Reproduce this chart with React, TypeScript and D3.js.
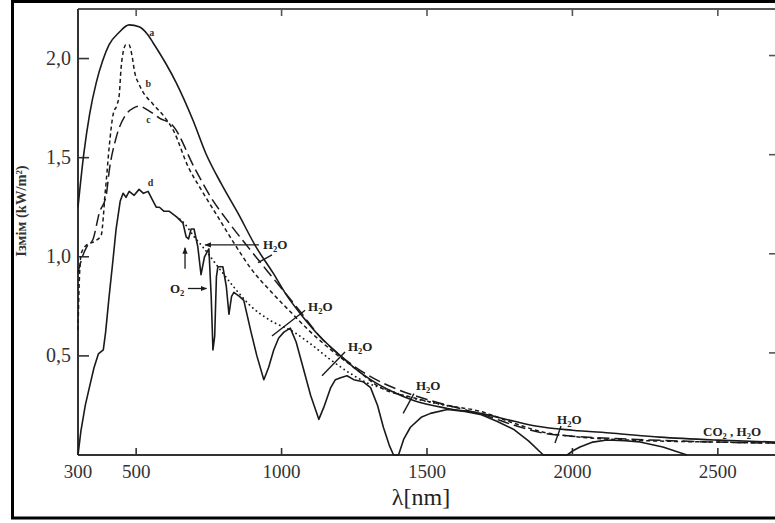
import React from 'react';
import * as d3 from 'd3';

const WIDTH = 775;
const HEIGHT = 523;

const X_TICKS = [300, 500, 1000, 1500, 2000, 2500];
const X_TICK_LABELS = ['300', '500', '1000', '1500', '2000', '2500'];
const TOP_TICKS = [500, 1000, 1500, 2000, 2500];
const Y_TICKS = [0.5, 1.0, 1.5, 2.0];
const Y_TICK_LABELS = ['0,5', '1,0', '1,5', '2,0'];

// curve a: extraterrestrial (solid)
const curveA: [number, number][] = [
  [300, 1.25], [320, 1.52], [340, 1.72], [363, 1.88], [385, 1.99], [407, 2.07], [440, 2.13],
  [476, 2.17], [510, 2.16], [540, 2.12], [558, 2.08], [600, 1.98], [637, 1.88], [695, 1.69],
  [740, 1.52], [792, 1.37], [850, 1.22], [912, 1.05], [970, 0.92], [1020, 0.8], [1066, 0.71],
  [1130, 0.6], [1203, 0.5], [1250, 0.44], [1306, 0.38], [1380, 0.32], [1454, 0.275],
  [1570, 0.235], [1683, 0.21], [1800, 0.17], [1879, 0.145], [2000, 0.125], [2140, 0.11],
  [2300, 0.09], [2500, 0.075], [2700, 0.065],
];

// curve b (short dashes)
const curveB: [number, number][] = [
  [300, 0.63], [305, 0.9], [312, 1.02], [330, 1.06], [360, 1.08], [380, 1.11], [387, 1.2],
  [392, 1.3], [397, 1.38], [407, 1.55], [421, 1.72], [435, 1.77], [442, 1.82], [448, 1.95],
  [455, 2.03], [465, 2.07], [475, 2.07], [485, 2.02], [495, 1.93], [510, 1.87], [524, 1.83],
  [558, 1.77], [600, 1.7], [627, 1.64], [680, 1.45], [723, 1.34], [790, 1.18], [836, 1.07],
  [900, 0.93], [960, 0.83], [1032, 0.72], [1100, 0.62], [1170, 0.53], [1250, 0.44],
  [1340, 0.34], [1450, 0.29], [1570, 0.25], [1683, 0.22], [1800, 0.16], [1900, 0.115],
  [2026, 0.09], [2200, 0.075], [2500, 0.065], [2700, 0.06],
];

// curve c (long dashes)
const curveC: [number, number][] = [
  [300, 0.92], [315, 1.0], [330, 1.05], [352, 1.09], [373, 1.22], [397, 1.31], [407, 1.43],
  [431, 1.6], [466, 1.72], [490, 1.75], [510, 1.76], [540, 1.74], [580, 1.7], [627, 1.66],
  [700, 1.45], [757, 1.3], [820, 1.17], [884, 1.05], [950, 0.93], [1000, 0.84], [1066, 0.72],
  [1130, 0.6], [1203, 0.5], [1300, 0.4], [1400, 0.33], [1500, 0.28], [1600, 0.24],
  [1700, 0.2], [1800, 0.15], [1900, 0.11], [2000, 0.095], [2200, 0.08], [2500, 0.065],
  [2700, 0.06],
];

// curve d (solid, with absorption bands)
const curveD: [number, number][] = [
  [300, 0], [310, 0.12], [325, 0.25], [339, 0.34], [355, 0.44], [370, 0.51], [387, 0.53],
  [395, 0.62], [407, 0.8], [420, 0.98], [431, 1.14], [445, 1.28], [455, 1.32], [465, 1.3],
  [476, 1.33], [493, 1.31], [510, 1.34], [525, 1.32], [541, 1.33], [555, 1.29], [569, 1.25],
  [580, 1.25], [595, 1.23], [613, 1.23], [640, 1.2], [661, 1.17], [672, 1.1], [680, 1.09],
  [689, 1.14], [699, 1.14], [712, 1.05], [723, 0.91], [735, 1.0], [750, 1.04], [758, 0.8],
  [764, 0.53], [770, 0.6], [776, 0.9], [781, 0.95], [798, 0.95], [810, 0.85], [819, 0.71],
  [828, 0.8], [836, 0.82], [855, 0.8], [870, 0.78], [895, 0.62], [915, 0.5], [939, 0.38],
  [955, 0.44], [973, 0.53], [990, 0.59], [1008, 0.62], [1030, 0.64], [1050, 0.57],
  [1076, 0.43], [1100, 0.3], [1128, 0.18], [1145, 0.24], [1169, 0.34], [1185, 0.38],
  [1203, 0.39], [1225, 0.4], [1248, 0.38], [1280, 0.37], [1306, 0.34], [1330, 0.25],
  [1350, 0.14], [1370, 0.05], [1385, 0], [1402, 0], [1420, 0.08], [1443, 0.14], [1480, 0.19],
  [1512, 0.21], [1570, 0.23], [1630, 0.22], [1683, 0.205], [1740, 0.17], [1797, 0.13],
  [1850, 0.07], [1900, 0], [1982, 0], [2000, 0.02], [2026, 0.04], [2070, 0.065],
  [2119, 0.076], [2180, 0.072], [2232, 0.066], [2311, 0.04], [2394, 0],
];

// dotted curve
const curveDotted: [number, number][] = [
  [650, 1.19], [665, 1.17], [700, 1.1], [729, 1.05], [781, 0.95], [840, 0.84], [895, 0.75],
  [960, 0.68], [1042, 0.62], [1100, 0.56], [1169, 0.48], [1238, 0.41], [1300, 0.36],
  [1364, 0.33], [1419, 0.3], [1500, 0.27], [1600, 0.24],
];

const CURVE_LABELS = [
  { t: 'a', nm: 545, v: 2.13 },
  { t: 'b', nm: 532, v: 1.87 },
  { t: 'c', nm: 535, v: 1.69 },
  { t: 'd', nm: 540, v: 1.37 },
];

// chemical labels: parts [text, isSub]
const CHEM_LABELS: { parts: [string, boolean][]; nm: number; v: number }[] = [
  { parts: [['H', false], ['2', true], ['O', false]], nm: 936, v: 1.06 },
  { parts: [['O', false], ['2', true]], nm: 616, v: 0.84 },
  { parts: [['H', false], ['2', true], ['O', false]], nm: 1091, v: 0.75 },
  { parts: [['H', false], ['2', true], ['O', false]], nm: 1228, v: 0.545 },
  { parts: [['H', false], ['2', true], ['O', false]], nm: 1462, v: 0.35 },
  { parts: [['H', false], ['2', true], ['O', false]], nm: 1947, v: 0.18 },
  { parts: [['CO', false], ['2', true], [' , H', false], ['2', true], ['O', false]], nm: 2449, v: 0.12 },
];

// leader lines [nm1, v1, nm2, v2]
const LEADERS: [number, number, number, number][] = [
  [919, 0.97, 967, 1.01],
  [967, 0.6, 1081, 0.73],
  [1139, 0.4, 1218, 0.52],
  [1418, 0.21, 1455, 0.31],
  [1940, 0.06, 1961, 0.146],
];

// arrows [nm1, v1, nm2, v2] (arrowhead at end 2)
const ARROWS: [number, number, number, number][] = [
  [922, 1.06, 737, 1.06],
  [678, 0.84, 742, 0.84],
  [668, 0.94, 668, 1.045],
];

export default function App() {
  const x = d3.scaleLinear().domain([300, 2700]).range([78, 776]);
  const y = d3.scaleLinear().domain([0, 2.25]).range([455, 9]);
  const line = d3
    .line<[number, number]>()
    .x((d) => x(d[0]))
    .y((d) => y(d[1]))
    .curve(d3.curveMonotoneX);
  const lineLin = d3
    .line<[number, number]>()
    .x((d) => x(d[0]))
    .y((d) => y(d[1]))
    .curve(d3.curveLinear);
  const ink = '#1a1a1a';
  const font = "'Liberation Serif', 'Times New Roman', serif";

  return (
    <svg
      width={WIDTH}
      height={HEIGHT}
      style={{ position: 'absolute', left: 0, top: 0, background: '#fff' }}
      fontFamily={font}
    >
      <defs>
        <marker id="ah" viewBox="0 0 10 10" refX="9" refY="5" markerWidth="5" markerHeight="5" orient="auto">
          <path d="M0,1 L10,5 L0,9 z" fill={ink} />
        </marker>
      </defs>
      <rect x={0} y={0} width={WIDTH} height={HEIGHT} fill="#fff" />
      {/* outer frame */}
      <rect x={12.5} y={1.5} width={800} height={516.5} fill="none" stroke="#000" strokeWidth={3} />

      {/* axes */}
      <line x1={x(300)} x2={x(2700)} y1={y(0)} y2={y(0)} stroke="#333" strokeWidth={2} />
      <line x1={x(300)} x2={x(2700)} y1={y(2.25)} y2={y(2.25)} stroke="#555" strokeWidth={2} />
      <line x1={x(300)} x2={x(300)} y1={y(0)} y2={y(2.25)} stroke="#333" strokeWidth={2} />
      <line x1={x(2700)} x2={x(2700)} y1={y(0)} y2={y(2.25)} stroke="#333" strokeWidth={2} />

      {X_TICKS.map((t, i) => (
        <g key={'xt' + i}>
          {t !== 300 && <line x1={x(t)} x2={x(t)} y1={y(0)} y2={y(0) - 7} stroke="#333" strokeWidth={1.6} />}
          <text x={x(t)} y={y(0) + 23} textAnchor="middle" fontSize={19} fill="#333">
            {X_TICK_LABELS[i]}
          </text>
        </g>
      ))}
      {TOP_TICKS.map((t) => (
        <line key={'tt' + t} x1={x(t)} x2={x(t)} y1={y(2.25)} y2={y(2.25) + 7} stroke="#555" strokeWidth={1.6} />
      ))}
      {Y_TICKS.map((t, i) => (
        <g key={'yt' + i}>
          <line x1={x(300)} x2={x(300) + 11} y1={y(t)} y2={y(t)} stroke="#333" strokeWidth={1.6} />
          <line x1={x(2700) - 7} x2={x(2700)} y1={y(t) - 3} y2={y(t) - 3} stroke="#555" strokeWidth={1.6} />
          <text x={71} y={y(t) + 6.5} textAnchor="end" fontSize={20} fill="#333">
            {Y_TICK_LABELS[i]}
          </text>
        </g>
      ))}

      {/* axis titles */}
      <text
        transform={`translate(26, 211) rotate(-90)`}
        textAnchor="middle"
        fontSize={14.5}
        fontWeight="bold"
        fill="#333"
      >
        Iзмім (kW/m²)
      </text>
      <text x={421} y={505} textAnchor="middle" fontSize={24} fill="#222">
        λ[nm]
      </text>

      {/* curves */}
      <path d={line(curveA) || ''} fill="none" stroke={ink} strokeWidth={1.6} />
      <path d={line(curveB) || ''} fill="none" stroke={ink} strokeWidth={1.5} strokeDasharray="4,3" />
      <path d={line(curveC) || ''} fill="none" stroke={ink} strokeWidth={1.5} strokeDasharray="12,5" />
      <path d={line(curveDotted) || ''} fill="none" stroke={ink} strokeWidth={1.8} strokeDasharray="0.1,4.5" strokeLinecap="round" />
      <path d={lineLin(curveD) || ''} fill="none" stroke={ink} strokeWidth={1.6} strokeLinejoin="round" />

      {/* curve labels */}
      {CURVE_LABELS.map((l) => (
        <text key={l.t} x={x(l.nm)} y={y(l.v) + 3} fontSize={10} fontWeight="bold" fill="#333">
          {l.t}
        </text>
      ))}

      {/* leaders and arrows */}
      {LEADERS.map((l, i) => (
        <line key={'ld' + i} x1={x(l[0])} y1={y(l[1])} x2={x(l[2])} y2={y(l[3])} stroke={ink} strokeWidth={1.4} />
      ))}
      {ARROWS.map((l, i) => (
        <line key={'ar' + i} x1={x(l[0])} y1={y(l[1])} x2={x(l[2])} y2={y(l[3])} stroke={ink} strokeWidth={1.3} markerEnd="url(#ah)" />
      ))}

      {/* chemical labels */}
      {CHEM_LABELS.map((l, i) => (
        <text key={'ch' + i} x={x(l.nm)} y={y(l.v) + 4.5} fontSize={13} fontWeight="bold" fill="#222">
          {l.parts.map((p, j) =>
            p[1] ? (
              <tspan key={j} fontSize={8.5} dy={3}>
                {p[0]}
              </tspan>
            ) : (
              <tspan key={j} dy={j > 0 && l.parts[j - 1][1] ? -3 : 0}>
                {p[0]}
              </tspan>
            )
          )}
        </text>
      ))}
    </svg>
  );
}
